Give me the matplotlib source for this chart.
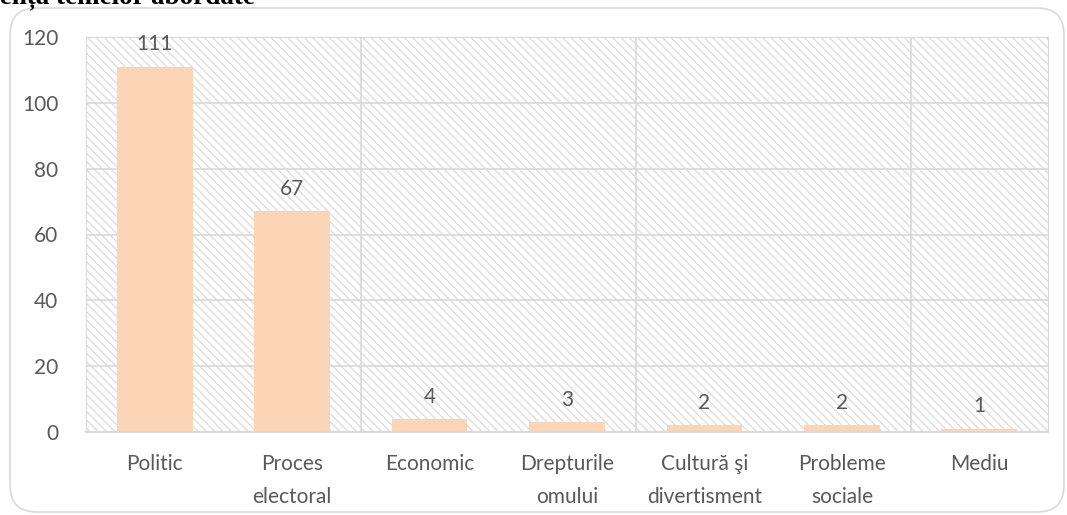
import matplotlib.pyplot as plt
from matplotlib.patches import FancyBboxPatch

# date
categorii = ["Politic", "Proces\nelectoral", "Economic", "Drepturile\nomului",
             "Cultură şi\ndivertisment", "Probleme\nsociale", "Mediu"]
valori = [111, 67, 4, 3, 2, 2, 1]
y_ticks = [0, 20, 40, 60, 80, 100, 120]
titlu = "Frecvența temelor abordate"

culoare_bara = "#FBD5B5"
culoare_text = "#595959"
culoare_grid = "#D9D9D9"

plt.rcParams["font.family"] = ["Lato", "DejaVu Sans"]
plt.rcParams["hatch.color"] = "#D8D8D8"
plt.rcParams["hatch.linewidth"] = 0.8

fig = plt.figure(figsize=(10.67, 5.15), dpi=100)
W, H = 1067, 515

# chenar rotunjit in jurul graficului
chenar = FancyBboxPatch((10 / W, 3 / H), 1054 / W, 504 / H,
                        boxstyle="round,pad=0,rounding_size=0.025",
                        transform=fig.transFigure, facecolor="none",
                        edgecolor=culoare_grid, linewidth=1.2,
                        mutation_aspect=W / H, zorder=-1)
fig.patches.append(chenar)

# titlul, taiat sus ca in original
fig.text(255 / W, 1 - 3 / H, titlu, ha="right", va="baseline",
         fontsize=19.5, fontweight="bold", family="Liberation Serif", color="black")

ax = fig.add_axes([86 / W, 1 - 432 / H, (1048 - 86) / W, (432 - 37) / H])
ax.set_facecolor("white")
ax.patch.set_hatch("\\\\\\\\")
ax.patch.set_edgecolor("#D8D8D8")
ax.patch.set_linewidth(0)

x = list(range(len(categorii)))
bare = ax.bar(x, valori, width=0.55, color=culoare_bara, zorder=3)

for xi, v in zip(x, valori):
    ax.annotate(str(v), (xi, v), xytext=(0, 16), textcoords="offset points",
                ha="center", va="center", fontsize=15, color=culoare_text, zorder=4)

ax.set_xlim(-0.5, len(categorii) - 0.5)
ax.set_ylim(0, 120)
ax.set_yticks(y_ticks)
ax.set_xticks(x)
ax.set_xticklabels(categorii, fontsize=15, color=culoare_text, linespacing=1.8)
ax.tick_params(axis="y", labelsize=15, labelcolor=culoare_text, length=0, pad=20)
ax.tick_params(axis="x", length=0, pad=16)

# linii de grid orizontale si verticale (la fiecare doua categorii)
ax.grid(axis="y", color=culoare_grid, linewidth=1.2, zorder=1)
for b in [1.5, 3.5, 5.5]:
    ax.axvline(b, color=culoare_grid, linewidth=1.2, zorder=1)

for s in ["top", "left", "right"]:
    ax.spines[s].set_color(culoare_grid)
ax.spines["bottom"].set_color(culoare_grid)
ax.spines["bottom"].set_linewidth(1.5)
ax.spines["bottom"].set_zorder(5)

fig.savefig("out.png", dpi=100)
